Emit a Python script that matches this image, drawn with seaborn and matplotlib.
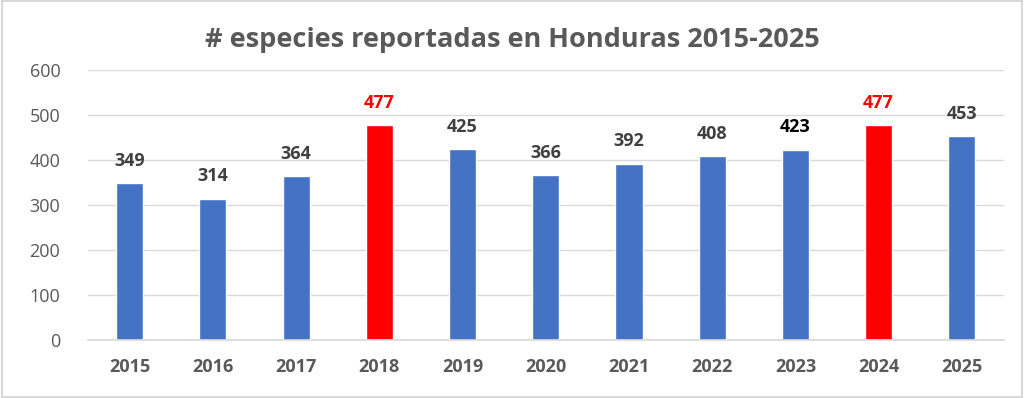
import matplotlib
matplotlib.use("Agg")
import matplotlib.pyplot as plt
import seaborn as sns
import pandas as pd

years = ["2015", "2016", "2017", "2018", "2019", "2020", "2021", "2022", "2023", "2024", "2025"]
species = [349, 314, 364, 477, 425, 366, 392, 408, 423, 477, 453]
bar_colors = ["#4472C4", "#4472C4", "#4472C4", "#FF0000", "#4472C4", "#4472C4",
              "#4472C4", "#4472C4", "#4472C4", "#FF0000", "#4472C4"]
label_colors = ["#404040", "#404040", "#404040", "#FF0000", "#404040", "#404040",
                "#404040", "#404040", "#000000", "#FF0000", "#404040"]
yticks = [0, 100, 200, 300, 400, 500, 600]
title = "# especies reportadas en Honduras 2015-2025"

sns.set_theme(style="white")
plt.rcParams["font.family"] = ["Open Sans", "DejaVu Sans"]

df = pd.DataFrame({"year": years, "n": species})

fig = plt.figure(figsize=(10.24, 3.98), dpi=100)
ax = fig.add_axes([0.086, 0.146, 0.894, 0.678])
sns.barplot(data=df, x="year", y="n", hue="year", palette=bar_colors, legend=False,
            width=0.325, ax=ax, saturation=1)

ax.set_ylim(0, 600)
ax.set_yticks(yticks)
ax.set_yticklabels([str(t) for t in yticks], fontsize=13, color="#595959")
ax.set_xlim(-0.5, len(years) - 0.5)
for lab in ax.get_xticklabels():
    lab.set_fontsize(13)
    lab.set_fontweight("bold")
    lab.set_color("#595959")
ax.tick_params(axis="x", pad=13, length=0)
ax.tick_params(axis="y", pad=20, length=0)
ax.set_xlabel("")
ax.set_ylabel("")
ax.yaxis.grid(True, color="#D9D9D9", linewidth=1)
ax.set_axisbelow(True)
for s in ["top", "right", "left"]:
    ax.spines[s].set_visible(False)
ax.spines["bottom"].set_color("#D9D9D9")

for i, (v, c) in enumerate(zip(species, label_colors)):
    ax.annotate(str(v), xy=(i, v), xytext=(0, 16), textcoords="offset points",
                ha="center", va="center", fontsize=13, fontweight="bold", color=c)

fig.text(0.5, 0.9, title, ha="center", va="center", fontsize=19.5,
         fontweight="bold", color="#595959")

border = plt.Rectangle((0.002, 0.003), 0.996, 0.994, transform=fig.transFigure,
                       fill=False, edgecolor="#D9D9D9", linewidth=1.5)
fig.add_artist(border)

fig.savefig("out.png", dpi=100, facecolor="white")
